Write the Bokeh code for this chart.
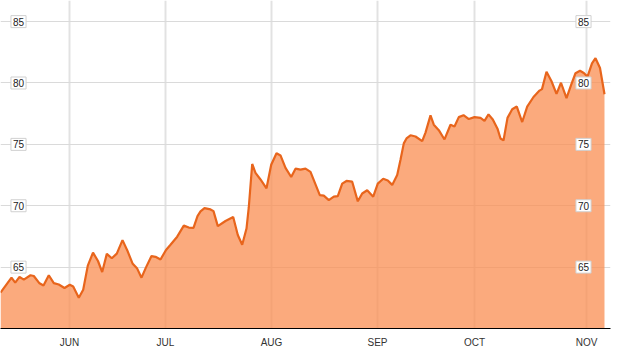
from bokeh.plotting import figure
from bokeh.models import ColumnDataSource, FixedTicker, Label, Range1d
from bokeh.embed import file_html
from bokeh.resources import INLINE

# trading-day index (x) and price values
days = [0, 2.2, 2.94, 3.8, 4.66, 6.0, 6.66, 7.8, 8.6, 9.66,
        10.66, 11.66, 12.8, 13.86, 14.54, 15.66, 16.54, 17.46, 18.5, 19.5,
        20.34, 21.26, 22.26, 23.26, 24.4, 25.34, 26.4, 27.34, 28.2, 29.1,
        30.2, 31.0, 32.0, 33.1, 34.0, 35.34, 36.66, 37.66, 38.6, 39.4,
        40.0, 40.8, 42.0, 42.6, 43.46, 45.0, 46.54, 47.46, 48.34, 49.2,
        49.66, 50.34, 51.0, 52.0, 53.2, 54.14, 55.2, 56.0, 57.0, 58.14,
        59.0, 60.0, 61.0, 62.0, 63.0, 63.86, 64.66, 65.66, 66.66, 67.46,
        68.34, 69.2, 70.34, 71.46, 72.34, 73.34, 74.54, 75.46, 76.54, 77.46,
        78.34, 79.34, 80.0, 80.66, 81.2, 82.0, 83.0, 84.34, 85.0, 86.0,
        86.66, 87.66, 88.8, 90.0, 90.8, 91.66, 92.6, 93.66, 94.8, 96.0,
        96.8, 97.6, 98.46, 99.4, 100.0, 100.6, 101.4, 102.34, 103.26, 104.34,
        105.34, 106.6, 107.8, 108.3, 109.2, 110.2, 111.2, 112.1, 113.2, 114.2,
        115.0, 115.9, 116.66, 117.4, 118.3, 119.0, 119.9, 120.8]

prices = [62.92, 64.14, 63.74, 64.20, 63.98, 64.34, 64.28, 63.68, 63.50, 64.34,
          63.70, 63.58, 63.30, 63.56, 63.42, 62.50, 63.16, 65.12, 66.18, 65.50,
          64.60, 66.08, 65.72, 66.10, 67.20, 66.38, 65.30, 64.88, 64.14, 64.98,
          65.90, 65.84, 65.62, 66.40, 66.82, 67.48, 68.38, 68.22, 68.20, 69.16,
          69.54, 69.80, 69.70, 69.56, 68.34, 68.76, 69.08, 67.62, 66.82, 68.14,
          69.88, 73.40, 72.68, 72.14, 71.42, 73.34, 74.28, 74.10, 73.08, 72.34,
          73.02, 72.94, 73.02, 72.76, 71.74, 70.86, 70.82, 70.46, 70.74, 70.78,
          71.80, 72.02, 71.96, 70.36, 71.00, 71.26, 70.74, 71.80, 72.20, 72.06,
          71.70, 72.50, 73.74, 75.08, 75.48, 75.74, 75.64, 75.26, 75.96, 77.36,
          76.60, 76.16, 75.40, 76.60, 76.46, 77.22, 77.38, 77.06, 77.22, 77.16,
          76.92, 77.44, 77.02, 76.28, 75.48, 75.32, 77.16, 77.86, 78.08, 76.82,
          78.08, 78.86, 79.38, 79.50, 80.92, 80.14, 79.12, 80.02, 78.76, 79.92,
          80.80, 81.00, 80.82, 80.52, 81.60, 82.02, 81.22, 79.08]

month_pos = [13.8, 33.0, 54.2, 75.4, 94.8, 117.2]
month_labels = ["JUN", "JUL", "AUG", "SEP", "OCT", "NOV"]
y_ticks = [65, 70, 75, 80, 85]

BASE = 60

p = figure(width=622, height=350, output_backend="svg", toolbar_location=None,
           x_range=Range1d(0, 122), y_range=Range1d(BASE, 86.72),
           min_border_left=0, min_border_right=12, min_border_top=0,
           min_border_bottom=16)
p.outline_line_color = None
p.background_fill_color = "white"
p.border_fill_color = "white"

src = ColumnDataSource(dict(x=days, y=prices))
p.varea(x="x", y1=BASE, y2="y", source=src, fill_color="#FA8E52", fill_alpha=0.75)
p.line(x="x", y="y", source=src, line_color="#E8651C", line_width=2.2)

# grids
p.xgrid.ticker = FixedTicker(ticks=month_pos)
p.xgrid.grid_line_color = "#e2e2e2"
p.xgrid.grid_line_width = 2
p.ygrid.ticker = FixedTicker(ticks=y_ticks)
p.ygrid.grid_line_color = "#dadada"
p.ygrid.grid_line_width = 1

# axes
p.yaxis.visible = False
xa = p.xaxis[0]
xa.ticker = FixedTicker(ticks=month_pos)
xa.major_label_overrides = {m: l for m, l in zip(month_pos, month_labels)}
xa.axis_line_color = "black"
xa.axis_line_width = 1
xa.major_tick_line_color = None
xa.minor_tick_line_color = None
xa.major_label_standoff = 2
xa.major_label_text_font = "Liberation Sans"
xa.major_label_text_font_size = "10px"
xa.major_label_text_color = "#333333"

# in-plot y labels (left and right), boxed on white
for xpos in (18, 583):
    for v in y_ticks:
        lab = Label(x=xpos, y=v, text=str(v), x_units="screen",
                    text_align="center", text_baseline="middle",
                    text_font="Liberation Sans", text_font_size="10px",
                    text_color="#222222",
                    background_fill_color="white", background_fill_alpha=1.0,
                    border_line_color="#d0d0d0", border_line_width=1,
                    padding=2)
        p.add_layout(lab)

open("out.html", "w").write(file_html(p, INLINE))
